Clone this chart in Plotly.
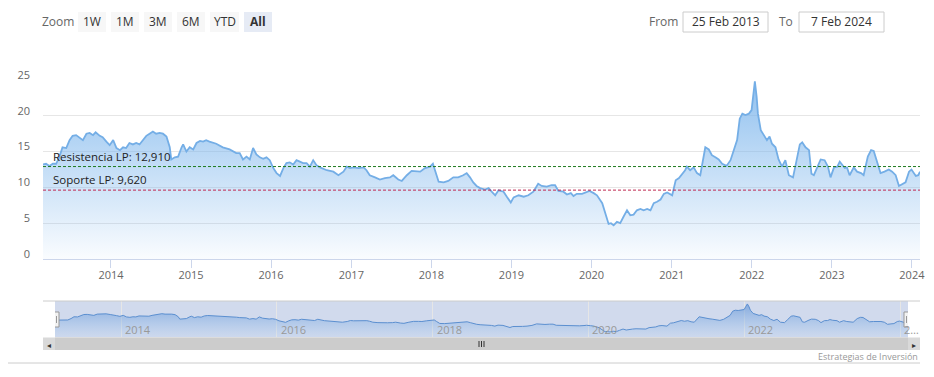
import plotly.graph_objects as go

W, H = 934, 377

dates = [
    "2013-02-25", "2013-03-11", "2013-03-26", "2013-04-11", "2013-04-26", "2013-05-11", "2013-05-25",
    "2013-06-11", "2013-06-26", "2013-07-10", "2013-07-26", "2013-08-11", "2013-08-26", "2013-09-11",
    "2013-09-26", "2013-10-11", "2013-10-23", "2013-11-11", "2013-11-24", "2013-12-11", "2013-12-26",
    "2014-01-11", "2014-01-26", "2014-02-11", "2014-02-25", "2014-03-11", "2014-03-26", "2014-04-11",
    "2014-04-26", "2014-05-11", "2014-05-26", "2014-06-11", "2014-06-26", "2014-07-11", "2014-07-26",
    "2014-08-11", "2014-08-26", "2014-09-11", "2014-09-26", "2014-10-03", "2014-10-19", "2014-11-03",
    "2014-11-19", "2014-11-26", "2014-12-11", "2014-12-26", "2015-01-11", "2015-01-26", "2015-02-11",
    "2015-02-25", "2015-03-11", "2015-03-26", "2015-04-26", "2015-05-26", "2015-06-26", "2015-07-11",
    "2015-07-26", "2015-08-11", "2015-08-26", "2015-09-11", "2015-09-26", "2015-10-11", "2015-10-26",
    "2015-11-11", "2015-11-26", "2015-12-11", "2015-12-26", "2016-01-11", "2016-01-26", "2016-02-11",
    "2016-02-26", "2016-03-11", "2016-03-26", "2016-04-11", "2016-04-26", "2016-05-11", "2016-05-26",
    "2016-06-11", "2016-06-26", "2016-07-11", "2016-07-26", "2016-08-11", "2016-09-11", "2016-10-11",
    "2016-11-03", "2016-11-26", "2016-12-11", "2016-12-26", "2017-01-11", "2017-02-03", "2017-02-26",
    "2017-03-11", "2017-03-26", "2017-04-19", "2017-05-11", "2017-06-03", "2017-06-26", "2017-07-11",
    "2017-08-03", "2017-08-19", "2017-09-11", "2017-10-03", "2017-10-26", "2017-11-11", "2017-12-03",
    "2017-12-26", "2018-01-08", "2018-01-19", "2018-02-03", "2018-02-26", "2018-03-19", "2018-04-11",
    "2018-05-03", "2018-05-26", "2018-06-11", "2018-06-26", "2018-07-11", "2018-07-26", "2018-08-11",
    "2018-09-03", "2018-09-19", "2018-10-03", "2018-10-19", "2018-11-03", "2018-11-26", "2018-12-11",
    "2018-12-29", "2019-01-11", "2019-02-03", "2019-02-26", "2019-03-19", "2019-04-11", "2019-05-03",
    "2019-05-19", "2019-06-11", "2019-07-03", "2019-07-19", "2019-08-03", "2019-08-26", "2019-09-11",
    "2019-09-29", "2019-10-11", "2019-10-26", "2019-11-19", "2019-12-11", "2019-12-23", "2020-01-11",
    "2020-01-26", "2020-02-19", "2020-03-03", "2020-03-19", "2020-03-30", "2020-04-11", "2020-04-26",
    "2020-05-11", "2020-05-26", "2020-06-11", "2020-06-26", "2020-07-11", "2020-07-26", "2020-08-11",
    "2020-08-26", "2020-09-11", "2020-09-26", "2020-10-11", "2020-10-26", "2020-11-11", "2020-11-26",
    "2020-12-11", "2021-01-03", "2021-01-19", "2021-02-03", "2021-02-19", "2021-03-03", "2021-03-11",
    "2021-03-26", "2021-04-11", "2021-04-26", "2021-05-11", "2021-06-03", "2021-06-19", "2021-07-03",
    "2021-07-19", "2021-08-03", "2021-08-19", "2021-09-08", "2021-09-26", "2021-10-11", "2021-10-26",
    "2021-11-07", "2021-11-19", "2021-12-03", "2021-12-19", "2021-12-31", "2022-01-08", "2022-01-15",
    "2022-01-23", "2022-01-29", "2022-02-11", "2022-02-26", "2022-03-11", "2022-03-23", "2022-04-03",
    "2022-04-19", "2022-05-03", "2022-05-19", "2022-06-03", "2022-06-19", "2022-07-08", "2022-07-23",
    "2022-08-08", "2022-08-19", "2022-09-03", "2022-09-19", "2022-09-30", "2022-10-11", "2022-10-26",
    "2022-11-11", "2022-11-29", "2022-12-14", "2022-12-26", "2023-01-11", "2023-01-26", "2023-02-06",
    "2023-02-19", "2023-03-01", "2023-03-11", "2023-03-23", "2023-04-11", "2023-04-26", "2023-05-14",
    "2023-05-26", "2023-06-14", "2023-06-29", "2023-07-11", "2023-07-26", "2023-08-11", "2023-08-29",
    "2023-09-18", "2023-10-03", "2023-10-19", "2023-11-03", "2023-11-19", "2023-12-03", "2023-12-19",
    "2023-12-30", "2024-01-19", "2024-01-30", "2024-02-07",
]

prices = [
    13.2, 13.3, 13.0, 13.3, 13.3, 14.3, 15.6,
    15.5, 16.6, 17.2, 17.3, 16.9, 16.6, 17.5,
    17.6, 17.3, 17.7, 17.2, 17.0, 16.4, 15.9,
    16.6, 15.5, 15.2, 15.6, 15.5, 16.2, 16.0,
    16.2, 16.0, 16.6, 17.2, 17.5, 17.8, 17.5,
    17.6, 17.5, 17.1, 15.6, 13.9, 14.2, 14.3,
    15.6, 16.0, 15.0, 15.6, 15.3, 16.2, 16.5,
    16.4, 16.6, 16.4, 16.1, 15.6, 15.3, 15.0,
    14.8, 14.8, 13.9, 14.3, 13.9, 15.5, 14.6,
    14.2, 14.0, 14.2, 13.8, 12.7, 12.0, 11.6,
    12.7, 13.4, 13.5, 13.2, 13.8, 13.6, 13.4,
    13.4, 12.9, 13.8, 13.1, 12.8, 12.4, 12.2,
    11.7, 12.2, 12.9, 12.7, 12.8, 12.7, 12.8,
    12.4, 11.7, 11.4, 11.1, 11.3, 11.4, 11.7,
    11.1, 10.9, 11.7, 12.3, 12.3, 12.2, 12.7,
    12.9, 13.3, 12.2, 10.8, 10.7, 10.9, 11.4,
    11.4, 11.7, 12.0, 11.4, 10.7, 10.2, 9.9,
    9.7, 9.9, 9.4, 8.9, 9.6, 9.4, 8.7,
    7.9, 8.6, 8.9, 8.7, 8.9, 9.4, 10.5,
    10.2, 10.1, 10.3, 10.3, 9.5, 9.4, 9.0,
    9.2, 8.8, 9.1, 9.1, 9.3, 9.5, 9.2,
    8.9, 7.8, 6.4, 4.9, 5.0, 4.7, 5.2,
    5.0, 5.9, 6.8, 6.1, 6.2, 6.8, 7.0,
    6.8, 7.0, 6.8, 7.8, 8.0, 8.3, 9.1,
    9.3, 8.9, 11.0, 11.3, 11.9, 12.4, 12.9,
    12.4, 12.8, 12.0, 11.7, 15.6, 15.3, 14.5,
    14.2, 13.9, 13.3, 13.0, 13.8, 15.2, 16.6,
    19.6, 20.3, 20.1, 20.3, 20.8, 23.1, 24.8,
    22.7, 20.3, 18.0, 17.3, 16.6, 17.1, 16.1,
    15.6, 13.9, 12.9, 13.8, 11.7, 11.4, 13.6,
    16.0, 16.3, 15.6, 15.2, 11.9, 11.7, 12.9,
    13.9, 13.8, 12.9, 11.4, 12.8, 12.9, 13.6,
    13.1, 12.7, 12.8, 11.7, 12.8, 12.2, 12.0,
    11.7, 14.3, 15.2, 15.1, 13.6, 12.0, 12.2,
    12.5, 12.2, 11.7, 10.2, 10.5, 10.7, 12.2,
    12.5, 11.6, 11.7, 12.2,
]

resistance_value = 12.91
support_value = 9.62
resistance_label = "Resistencia LP: 12,910"
support_label = "Soporte LP: 9,620"
range_buttons = ["1W", "1M", "3M", "6M", "YTD", "All"]
selected_button = "All"
from_date_text = "25 Feb 2013"
to_date_text = "7 Feb 2024"
y_ticks = [0, 5, 10, 15, 20, 25]
nav_tick_vals = ["2014-01-01", "2016-01-01", "2018-01-01", "2020-01-01", "2022-01-01", "2024-01-01"]
nav_tick_text = ["2014", "2016", "2018", "2020", "2022", "2\u2026"]
credit_text = "Estrategias de Inversión"

FONT = "Open Sans"


def px(x):
    return x / W


def py(y):
    return 1 - y / H


fig = go.Figure()

# Main area series
fig.add_trace(go.Scatter(
    x=dates, y=prices, mode="lines",
    line=dict(color="#74aee6", width=1.8),
    fill="tozeroy",
    fillgradient=dict(type="vertical",
                      colorscale=[[0, "rgba(124,181,236,0.04)"], [1, "rgba(124,181,236,0.85)"]],
                      start=0, stop=25),
    xaxis="x", yaxis="y", hoverinfo="skip", showlegend=False,
))

# Navigator series
fig.add_trace(go.Scatter(
    x=dates, y=prices, mode="lines",
    line=dict(color="#5b8fd0", width=1),
    fill="tozeroy",
    fillgradient=dict(type="vertical",
                      colorscale=[[0, "rgba(124,181,236,0.05)"], [1, "rgba(90,140,210,0.7)"]],
                      start=1.1, stop=26.9),
    xaxis="x2", yaxis="y2", hoverinfo="skip", showlegend=False,
))

shapes = []
annotations = []

# Plot lines (resistance / support)
for val, col, lab in [(resistance_value, "#1f7a1f", resistance_label),
                      (support_value, "#c02850", support_label)]:
    shapes.append(dict(type="line", xref="x domain", yref="y", x0=0, x1=1, y0=val, y1=val,
                       line=dict(color=col, width=1, dash="3px,2px"), layer="above"))
    annotations.append(dict(xref="x domain", yref="y", x=0, y=val, xshift=8, yshift=1,
                            xanchor="left", yanchor="bottom", showarrow=False, text=lab,
                            font=dict(family=FONT, size=11.5, color="#222")))

# Navigator mask (selected range = all)
shapes.append(dict(type="rect", xref="x2", yref="y2 domain", x0=dates[0], x1=dates[-1], y0=0, y1=1,
                   fillcolor="rgba(102,133,194,0.3)", line=dict(width=0), layer="below"))
# Navigator outline top
shapes.append(dict(type="line", xref="paper", yref="paper", x0=px(43), x1=px(920), y0=py(301), y1=py(301),
                   line=dict(color="#cccccc", width=1)))
# Navigator year labels (left-aligned next to their grid lines)
for tv, tt in zip(nav_tick_vals, nav_tick_text):
    annotations.append(dict(xref="x2", yref="paper", x=tv, y=py(329), xshift=2, text=tt, showarrow=False,
                            xanchor="left", yanchor="middle",
                            font=dict(family=FONT, size=11, color="#999999")))

# Scrollbar
shapes.append(dict(type="rect", xref="paper", yref="paper", x0=px(43), x1=px(920), y0=py(350), y1=py(337.5),
                   fillcolor="#d9d9d9", line=dict(width=0)))
shapes.append(dict(type="rect", xref="x2", yref="paper", x0=dates[0], x1=dates[-1], y0=py(350), y1=py(337.5),
                   fillcolor="#cccccc", line=dict(width=0)))
for xc in [479, 481.5, 484]:
    shapes.append(dict(type="line", xref="paper", yref="paper", x0=px(xc), x1=px(xc), y0=py(341), y1=py(347),
                       line=dict(color="#333333", width=1)))
annotations.append(dict(xref="paper", yref="paper", x=px(49), y=py(344), text="◂", showarrow=False,
                        font=dict(size=8, color="#333"), xanchor="center", yanchor="middle"))
annotations.append(dict(xref="paper", yref="paper", x=px(914), y=py(344), text="▸", showarrow=False,
                        font=dict(size=8, color="#333"), xanchor="center", yanchor="middle"))

# Navigator handles
for d in [dates[0], dates[-1]]:
    shapes.append(dict(type="rect", xref="x2", yref="paper", xsizemode="pixel", xanchor=d,
                       x0=-4, x1=4, y0=py(327), y1=py(312), fillcolor="#f2f2f2",
                       line=dict(color="#999999", width=1), layer="above"))
    for dx in [-1.5, 1.5]:
        shapes.append(dict(type="line", xref="x2", yref="paper", xsizemode="pixel", xanchor=d,
                           x0=dx, x1=dx, y0=py(323), y1=py(316),
                           line=dict(color="#999999", width=1), layer="above"))

# Bottom separator + credit
shapes.append(dict(type="line", xref="paper", yref="paper", x0=px(8), x1=px(920), y0=py(363), y1=py(363),
                   line=dict(color="#cccccc", width=1)))
annotations.append(dict(xref="paper", yref="paper", x=px(920), y=py(356), text=credit_text, showarrow=False,
                        xanchor="right", yanchor="middle", font=dict(family=FONT, size=9, color="#999999")))

# Range selector
annotations.append(dict(xref="paper", yref="paper", x=px(58), y=py(22), text="Zoom", showarrow=False,
                        xanchor="center", yanchor="middle", font=dict(family=FONT, size=12, color="#666666")))
btn_bounds = [(78, 106), (111, 139), (144, 172), (177, 205), (210, 239), (244, 272)]
for lab, (bx0, bx1) in zip(range_buttons, btn_bounds):
    sel = lab == selected_button
    shapes.append(dict(type="rect", xref="paper", yref="paper", x0=px(bx0), x1=px(bx1), y0=py(32), y1=py(12),
                       fillcolor="#e6ebf5" if sel else "#f7f7f7", line=dict(width=0)))
    annotations.append(dict(xref="paper", yref="paper", x=px((bx0 + bx1) / 2), y=py(22),
                            text=f"<b>{lab}</b>" if sel else lab, showarrow=False,
                            xanchor="center", yanchor="middle",
                            font=dict(family=FONT, size=12, color="#333333")))

# From / To inputs
annotations.append(dict(xref="paper", yref="paper", x=px(663), y=py(22), text="From", showarrow=False,
                        xanchor="center", yanchor="middle", font=dict(family=FONT, size=12, color="#666666")))
annotations.append(dict(xref="paper", yref="paper", x=px(786), y=py(22), text="To", showarrow=False,
                        xanchor="center", yanchor="middle", font=dict(family=FONT, size=12, color="#666666")))
for (bx0, bx1), txt in [((683, 768), from_date_text), ((799, 884), to_date_text)]:
    shapes.append(dict(type="rect", xref="paper", yref="paper", x0=px(bx0), x1=px(bx1), y0=py(32), y1=py(12),
                       fillcolor="white", line=dict(color="#cccccc", width=1)))
    annotations.append(dict(xref="paper", yref="paper", x=px((bx0 + bx1) / 2), y=py(22), text=txt,
                            showarrow=False, xanchor="center", yanchor="middle",
                            font=dict(family=FONT, size=12, color="#333333")))

fig.update_layout(
    width=W, height=H, autosize=False,
    margin=dict(l=0, r=0, t=0, b=0, pad=0, autoexpand=False),
    paper_bgcolor="white", plot_bgcolor="white",
    showlegend=False,
    font=dict(family=FONT, size=11, color="#666666"),
    xaxis=dict(domain=[px(43), px(920)], range=[dates[0], dates[-1]], anchor="y", automargin=False,
               type="date", tick0="2014-01-01", dtick="M12", tickformat="%Y",
               showgrid=False, showline=True, linecolor="#ccd6eb", linewidth=1,
               ticks="outside", ticklen=8, tickcolor="#ccd6eb", ticklabelstandoff=-2,
               tickfont=dict(family=FONT, size=11, color="#666666"), zeroline=False, fixedrange=True),
    yaxis=dict(domain=[py(259), py(80)], range=[0, 25], anchor="x", automargin=False,
               tickvals=y_ticks, showgrid=True, gridcolor="#e6e6e6", gridwidth=1,
               zeroline=False, showline=False, ticks="", ticklabelstandoff=12, ticklabelshift=-5,
               tickfont=dict(family=FONT, size=11, color="#666666"), fixedrange=True),
    xaxis2=dict(domain=[px(55), px(908)], range=[dates[0], dates[-1]], anchor="y2", automargin=False,
                type="date", tickvals=nav_tick_vals, showticklabels=False,
                showgrid=True, gridcolor="#e6e6e6",
                showline=False, ticks="", zeroline=False, fixedrange=True),
    yaxis2=dict(domain=[py(337), py(301)], range=[1.1, 26.9], anchor="x2", automargin=False,
                visible=False, showgrid=False, fixedrange=True),
    shapes=shapes,
    annotations=annotations,
)

fig.write_html(
    "out.html",
    config={"displayModeBar": False, "staticPlot": True},
    post_script="document.body.style.margin='0';",
)
